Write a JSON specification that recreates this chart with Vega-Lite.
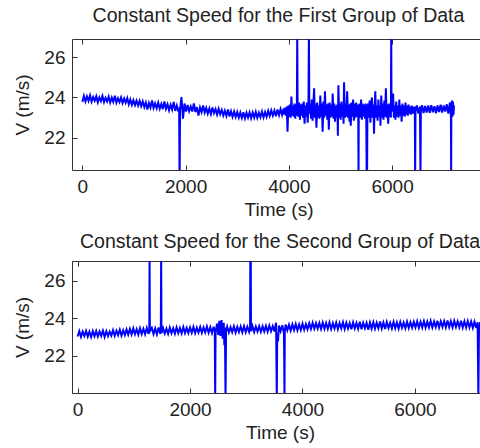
{
  "$schema": "https://vega.github.io/schema/vega-lite/v6.json",
  "padding": {"left": 13, "top": 5, "right": 0, "bottom": 0},
  "background": "white",
  "config": {
    "font": "Liberation Sans",
    "view": {"stroke": "#333333", "strokeWidth": 1},
    "axis": {"grid": false, "domain": false, "labelFontSize": 19, "labelColor": "#222222", "titleFontSize": 19, "titleFontWeight": "normal", "titleColor": "#222222", "tickColor": "#333333", "tickSize": -5, "labelPadding": 12},
    "axisY": {"titlePadding": 11},
    "title": {"fontSize": 19.5, "fontWeight": "normal", "color": "#222222", "offset": 12},
    "concat": {"spacing": 11}
  },
  "datasets": {
    "g1": [
      {"t":0,"v":23.78},{"t":30,"v":24.08},{"t":60,"v":23.8},{"t":90,"v":24.05},{"t":120,"v":23.83},{"t":150,"v":24.1},{"t":180,"v":23.79},{"t":210,"v":24.02},{"t":240,"v":23.84},{"t":270,"v":24.06},
      {"t":300,"v":23.76},{"t":330,"v":24.0},{"t":360,"v":23.82},{"t":390,"v":24.07},{"t":420,"v":23.77},{"t":450,"v":23.98},{"t":480,"v":23.8},{"t":510,"v":24.04},{"t":540,"v":23.75},{"t":570,"v":23.99},
      {"t":600,"v":23.78},{"t":630,"v":24.08},{"t":660,"v":23.74},{"t":690,"v":23.96},{"t":720,"v":23.77},{"t":750,"v":24.0},{"t":780,"v":23.72},{"t":810,"v":23.95},{"t":840,"v":23.74},{"t":870,"v":23.97},
      {"t":900,"v":23.66},{"t":930,"v":23.9},{"t":960,"v":23.63},{"t":990,"v":23.86},{"t":1020,"v":23.62},{"t":1050,"v":23.84},{"t":1080,"v":23.6},{"t":1110,"v":23.83},{"t":1140,"v":23.57},{"t":1170,"v":23.8},
      {"t":1200,"v":23.52},{"t":1230,"v":23.75},{"t":1260,"v":23.4},{"t":1290,"v":23.72},{"t":1320,"v":23.5},{"t":1350,"v":23.85},{"t":1380,"v":23.48},{"t":1410,"v":23.7},{"t":1440,"v":23.46},{"t":1470,"v":23.74},
      {"t":1500,"v":23.44},{"t":1530,"v":23.68},{"t":1560,"v":23.42},{"t":1590,"v":23.8},{"t":1620,"v":23.43},{"t":1650,"v":23.66},{"t":1680,"v":23.36},{"t":1710,"v":23.64},{"t":1740,"v":23.4},{"t":1770,"v":23.78},
      {"t":1800,"v":23.33},{"t":1830,"v":23.6},{"t":1860,"v":23.3},{"t":1875,"v":23.5},{"t":1884,"v":19.5},{"t":1893,"v":23.4},{"t":1920,"v":24.02},{"t":1950,"v":22.95},{"t":1980,"v":23.7},{"t":2010,"v":23.3},{"t":2040,"v":23.62},{"t":2070,"v":23.32},
      {"t":2100,"v":23.55},{"t":2130,"v":23.3},{"t":2160,"v":23.7},{"t":2190,"v":23.28},{"t":2220,"v":23.52},{"t":2250,"v":23.1},{"t":2280,"v":23.5},{"t":2310,"v":23.27},{"t":2340,"v":23.6},{"t":2370,"v":23.25},
      {"t":2400,"v":23.48},{"t":2430,"v":23.2},{"t":2460,"v":23.45},{"t":2490,"v":23.18},{"t":2520,"v":23.5},{"t":2550,"v":23.22},{"t":2580,"v":23.42},{"t":2610,"v":23.15},{"t":2640,"v":23.44},{"t":2670,"v":23.17},
      {"t":2700,"v":23.38},{"t":2730,"v":23.1},{"t":2760,"v":23.34},{"t":2790,"v":23.08},{"t":2820,"v":23.4},{"t":2850,"v":23.05},{"t":2880,"v":23.32},{"t":2910,"v":23.04},{"t":2940,"v":23.3},{"t":2970,"v":23.03},
      {"t":3000,"v":23.28},{"t":3030,"v":23.0},{"t":3060,"v":23.25},{"t":3090,"v":22.98},{"t":3120,"v":23.27},{"t":3150,"v":22.96},{"t":3180,"v":23.24},{"t":3210,"v":23.0},{"t":3240,"v":23.26},{"t":3270,"v":22.97},
      {"t":3300,"v":23.25},{"t":3330,"v":23.0},{"t":3360,"v":23.28},{"t":3390,"v":22.99},{"t":3420,"v":23.24},{"t":3450,"v":23.02},{"t":3480,"v":23.3},{"t":3510,"v":23.01},{"t":3540,"v":23.27},{"t":3570,"v":23.04},
      {"t":3600,"v":23.33},{"t":3630,"v":23.08},{"t":3660,"v":23.36},{"t":3690,"v":23.1},{"t":3720,"v":23.35},{"t":3750,"v":23.07},{"t":3780,"v":23.4},{"t":3810,"v":23.12},{"t":3840,"v":23.42},{"t":3870,"v":23.14},
      {"t":3900,"v":23.45},{"t":3915,"v":23.15},{"t":3930,"v":23.5},{"t":3945,"v":23.1},{"t":3960,"v":23.55},{"t":3975,"v":22.3},{"t":3990,"v":23.6},{"t":4005,"v":23.05},{"t":4020,"v":23.65},{"t":4035,"v":23.0},
      {"t":4050,"v":24.05},{"t":4065,"v":23.1},{"t":4080,"v":23.6},{"t":4095,"v":23.05},{"t":4110,"v":23.7},{"t":4125,"v":22.95},{"t":4140,"v":23.65},{"t":4155,"v":23.1},{"t":4163,"v":27.3},{"t":4171,"v":23.4},
      {"t":4185,"v":23.05},{"t":4200,"v":23.75},{"t":4215,"v":22.9},{"t":4230,"v":23.65},{"t":4245,"v":23.1},{"t":4260,"v":23.7},{"t":4275,"v":23.0},{"t":4290,"v":23.8},{"t":4305,"v":22.7},{"t":4320,"v":23.6},
      {"t":4335,"v":23.05},{"t":4350,"v":23.75},{"t":4365,"v":22.75},{"t":4380,"v":23.6},{"t":4389,"v":27.3},{"t":4398,"v":23.2},{"t":4414,"v":23.7},{"t":4430,"v":22.95},{"t":4445,"v":23.9},{"t":4460,"v":22.85},
      {"t":4475,"v":23.65},{"t":4490,"v":24.45},{"t":4505,"v":23.0},{"t":4520,"v":23.7},{"t":4535,"v":22.5},{"t":4550,"v":23.75},{"t":4565,"v":23.0},{"t":4580,"v":23.6},{"t":4595,"v":22.95},{"t":4610,"v":24.1},
      {"t":4625,"v":23.05},{"t":4640,"v":23.7},{"t":4655,"v":22.3},{"t":4670,"v":23.8},{"t":4685,"v":23.0},{"t":4700,"v":24.3},{"t":4715,"v":23.1},{"t":4730,"v":23.65},{"t":4745,"v":22.9},{"t":4760,"v":23.7},
      {"t":4775,"v":22.4},{"t":4790,"v":23.75},{"t":4805,"v":23.0},{"t":4820,"v":23.65},{"t":4835,"v":23.05},{"t":4850,"v":24.2},{"t":4865,"v":22.95},{"t":4880,"v":23.7},{"t":4895,"v":22.8},{"t":4910,"v":23.6},
      {"t":4925,"v":23.0},{"t":4940,"v":23.65},{"t":4950,"v":22.1},{"t":4960,"v":24.6},{"t":4975,"v":23.0},{"t":4990,"v":23.7},{"t":5005,"v":22.9},{"t":5020,"v":23.8},{"t":5035,"v":23.05},{"t":5050,"v":23.6},
      {"t":5060,"v":22.7},{"t":5070,"v":24.75},{"t":5085,"v":23.0},{"t":5100,"v":23.7},{"t":5115,"v":23.05},{"t":5130,"v":24.3},{"t":5145,"v":23.0},{"t":5160,"v":23.65},{"t":5175,"v":22.8},{"t":5190,"v":23.7},
      {"t":5200,"v":22.6},{"t":5215,"v":23.75},{"t":5230,"v":23.05},{"t":5245,"v":23.9},{"t":5260,"v":22.85},{"t":5275,"v":23.7},{"t":5290,"v":23.0},{"t":5305,"v":23.75},{"t":5320,"v":23.05},{"t":5335,"v":23.65},
      {"t":5345,"v":23.0},{"t":5350,"v":20.1},{"t":5355,"v":23.2},{"t":5370,"v":23.7},{"t":5385,"v":23.0},{"t":5400,"v":23.9},{"t":5415,"v":22.9},{"t":5430,"v":23.7},{"t":5445,"v":23.05},{"t":5460,"v":23.65},
      {"t":5475,"v":22.95},{"t":5490,"v":23.7},{"t":5500,"v":23.1},{"t":5508,"v":20.1},{"t":5512,"v":23.3},{"t":5516,"v":20.1},{"t":5522,"v":23.1},{"t":5535,"v":23.7},{"t":5550,"v":23.0},{"t":5565,"v":23.85},
      {"t":5580,"v":22.75},{"t":5595,"v":23.7},{"t":5610,"v":24.0},{"t":5625,"v":23.0},{"t":5640,"v":23.65},{"t":5650,"v":22.2},{"t":5665,"v":23.7},{"t":5675,"v":24.3},{"t":5690,"v":23.0},{"t":5705,"v":23.6},
      {"t":5720,"v":22.85},{"t":5735,"v":23.9},{"t":5750,"v":23.05},{"t":5765,"v":23.6},{"t":5775,"v":22.6},{"t":5790,"v":24.1},{"t":5805,"v":23.0},{"t":5820,"v":23.7},{"t":5835,"v":22.9},{"t":5850,"v":23.85},
      {"t":5865,"v":23.05},{"t":5880,"v":24.45},{"t":5895,"v":23.0},{"t":5910,"v":23.65},{"t":5925,"v":22.7},{"t":5940,"v":23.7},{"t":5955,"v":23.05},{"t":5970,"v":23.6},{"t":5977,"v":23.0},{"t":5983,"v":27.3},
      {"t":5990,"v":23.3},{"t":6005,"v":23.65},{"t":6020,"v":24.2},{"t":6035,"v":23.0},{"t":6050,"v":23.6},{"t":6065,"v":22.9},{"t":6080,"v":23.8},{"t":6095,"v":23.05},{"t":6110,"v":23.6},{"t":6125,"v":23.0},
      {"t":6140,"v":23.9},{"t":6155,"v":23.1},{"t":6170,"v":23.6},{"t":6185,"v":22.8},{"t":6200,"v":23.7},{"t":6215,"v":23.1},{"t":6230,"v":23.6},{"t":6245,"v":23.05},{"t":6260,"v":23.75},{"t":6275,"v":23.15},
      {"t":6290,"v":23.6},{"t":6305,"v":23.1},{"t":6320,"v":23.65},{"t":6335,"v":23.2},{"t":6350,"v":23.55},{"t":6365,"v":23.15},{"t":6380,"v":23.6},{"t":6395,"v":23.2},{"t":6410,"v":23.55},{"t":6425,"v":23.2},
      {"t":6440,"v":23.55},{"t":6447,"v":20.1},{"t":6454,"v":23.3},{"t":6480,"v":23.6},{"t":6510,"v":23.2},{"t":6540,"v":23.55},{"t":6550,"v":20.1},{"t":6558,"v":23.3},{"t":6580,"v":23.62},
      {"t":6610,"v":23.22},{"t":6640,"v":23.58},{"t":6670,"v":23.25},{"t":6700,"v":23.6},{"t":6730,"v":23.24},{"t":6760,"v":23.62},{"t":6790,"v":23.26},{"t":6820,"v":23.56},{"t":6850,"v":23.22},{"t":6880,"v":23.6},
      {"t":6910,"v":23.28},{"t":6940,"v":23.64},{"t":6970,"v":23.25},{"t":7000,"v":23.6},{"t":7030,"v":23.3},{"t":7060,"v":23.66},{"t":7090,"v":23.2},{"t":7120,"v":23.75},{"t":7140,"v":23.1},{"t":7144,"v":20.1},
      {"t":7148,"v":23.2},{"t":7160,"v":23.85},{"t":7170,"v":23.05},{"t":7180,"v":23.8},{"t":7190,"v":23.15},{"t":7200,"v":23.6}
    ],
    "g2": [
      {"t":0,"v":23.02},{"t":30,"v":23.3},{"t":60,"v":23.0},{"t":90,"v":23.28},{"t":120,"v":23.04},{"t":150,"v":23.32},{"t":180,"v":23.01},{"t":210,"v":23.27},{"t":240,"v":22.99},{"t":270,"v":23.3},
      {"t":300,"v":23.03},{"t":330,"v":23.31},{"t":360,"v":23.02},{"t":390,"v":23.29},{"t":420,"v":23.05},{"t":450,"v":23.33},{"t":480,"v":23.0},{"t":510,"v":23.3},{"t":540,"v":23.04},{"t":570,"v":23.28},
      {"t":600,"v":23.07},{"t":630,"v":23.36},{"t":660,"v":23.06},{"t":690,"v":23.33},{"t":720,"v":23.09},{"t":750,"v":23.38},{"t":780,"v":23.07},{"t":810,"v":23.35},{"t":840,"v":23.1},{"t":870,"v":23.4},
      {"t":900,"v":23.12},{"t":930,"v":23.42},{"t":960,"v":23.13},{"t":990,"v":23.45},{"t":1020,"v":23.14},{"t":1050,"v":23.41},{"t":1080,"v":23.12},{"t":1110,"v":23.46},{"t":1140,"v":23.15},{"t":1170,"v":23.43},
      {"t":1200,"v":23.14},{"t":1230,"v":23.47},{"t":1260,"v":23.16},{"t":1275,"v":23.4},{"t":1280,"v":27.4},{"t":1285,"v":23.3},{"t":1320,"v":23.48},{"t":1350,"v":23.15},{"t":1380,"v":23.45},{"t":1410,"v":23.13},
      {"t":1440,"v":23.5},{"t":1470,"v":23.16},{"t":1480,"v":23.4},{"t":1486,"v":27.4},{"t":1492,"v":23.2},{"t":1520,"v":23.47},{"t":1550,"v":23.18},{"t":1580,"v":23.44},{"t":1610,"v":23.16},{"t":1640,"v":23.49},
      {"t":1670,"v":23.19},{"t":1700,"v":23.46},{"t":1730,"v":23.17},{"t":1760,"v":23.5},{"t":1790,"v":23.2},{"t":1820,"v":23.47},{"t":1850,"v":23.18},{"t":1880,"v":23.52},{"t":1910,"v":23.2},{"t":1940,"v":23.48},
      {"t":1970,"v":23.21},{"t":2000,"v":23.5},{"t":2030,"v":23.22},{"t":2060,"v":23.53},{"t":2090,"v":23.2},{"t":2120,"v":23.49},{"t":2150,"v":23.23},{"t":2180,"v":23.52},{"t":2210,"v":23.21},{"t":2240,"v":23.5},
      {"t":2270,"v":23.24},{"t":2300,"v":23.55},{"t":2330,"v":23.22},{"t":2360,"v":23.51},{"t":2390,"v":23.2},{"t":2420,"v":23.54},{"t":2440,"v":23.3},{"t":2447,"v":19.7},{"t":2454,"v":23.25},{"t":2480,"v":23.7},
      {"t":2500,"v":23.1},{"t":2520,"v":23.85},{"t":2540,"v":23.05},{"t":2560,"v":23.9},{"t":2580,"v":22.9},{"t":2600,"v":23.75},{"t":2610,"v":22.55},{"t":2620,"v":23.5},{"t":2631,"v":19.7},{"t":2640,"v":23.3},
      {"t":2660,"v":23.55},{"t":2690,"v":23.24},{"t":2720,"v":23.52},{"t":2750,"v":23.25},{"t":2780,"v":23.56},{"t":2810,"v":23.23},{"t":2840,"v":23.53},{"t":2870,"v":23.26},{"t":2900,"v":23.55},{"t":2930,"v":23.24},
      {"t":2960,"v":23.57},{"t":2990,"v":23.25},{"t":3020,"v":23.54},{"t":3050,"v":23.27},{"t":3068,"v":23.5},{"t":3072,"v":27.4},{"t":3076,"v":23.4},{"t":3080,"v":27.4},{"t":3084,"v":23.3},{"t":3110,"v":23.58},
      {"t":3140,"v":23.26},{"t":3170,"v":23.55},{"t":3200,"v":23.28},{"t":3230,"v":23.57},{"t":3260,"v":23.27},{"t":3290,"v":23.56},{"t":3320,"v":23.29},{"t":3350,"v":23.58},{"t":3380,"v":23.28},{"t":3410,"v":23.6},
      {"t":3440,"v":23.3},{"t":3470,"v":23.57},{"t":3500,"v":23.29},{"t":3530,"v":23.75},{"t":3543,"v":19.7},{"t":3550,"v":23.2},{"t":3565,"v":22.75},{"t":3580,"v":23.6},{"t":3610,"v":23.3},{"t":3640,"v":23.62},
      {"t":3670,"v":23.2},{"t":3675,"v":21.7},{"t":3680,"v":19.7},{"t":3685,"v":23.3},{"t":3700,"v":23.65},{"t":3730,"v":23.35},{"t":3760,"v":23.64},{"t":3790,"v":23.33},{"t":3820,"v":23.66},{"t":3850,"v":23.36},
      {"t":3880,"v":23.68},{"t":3910,"v":23.35},{"t":3940,"v":23.66},{"t":3970,"v":23.37},{"t":4000,"v":23.7},{"t":4030,"v":23.38},{"t":4060,"v":23.68},{"t":4090,"v":23.4},{"t":4120,"v":23.72},{"t":4150,"v":23.42},
      {"t":4180,"v":23.75},{"t":4210,"v":23.43},{"t":4240,"v":23.73},{"t":4270,"v":23.44},{"t":4300,"v":23.74},{"t":4330,"v":23.42},{"t":4360,"v":23.76},{"t":4390,"v":23.43},{"t":4420,"v":23.74},{"t":4450,"v":23.43},
      {"t":4480,"v":23.77},{"t":4510,"v":23.42},{"t":4540,"v":23.73},{"t":4570,"v":23.44},{"t":4600,"v":23.76},{"t":4630,"v":23.41},{"t":4660,"v":23.74},{"t":4690,"v":23.45},{"t":4720,"v":23.78},{"t":4750,"v":23.42},
      {"t":4780,"v":23.75},{"t":4810,"v":23.44},{"t":4840,"v":23.73},{"t":4870,"v":23.4},{"t":4900,"v":23.77},{"t":4930,"v":23.45},{"t":4960,"v":23.74},{"t":4990,"v":23.43},{"t":5020,"v":23.8},{"t":5050,"v":23.41},
      {"t":5080,"v":23.75},{"t":5110,"v":23.46},{"t":5140,"v":23.74},{"t":5170,"v":23.38},{"t":5200,"v":23.76},{"t":5230,"v":23.44},{"t":5260,"v":23.78},{"t":5290,"v":23.43},{"t":5320,"v":23.75},{"t":5350,"v":23.46},
      {"t":5380,"v":23.82},{"t":5410,"v":23.44},{"t":5440,"v":23.76},{"t":5470,"v":23.42},{"t":5500,"v":23.79},{"t":5530,"v":23.47},{"t":5560,"v":23.75},{"t":5590,"v":23.45},{"t":5620,"v":23.8},{"t":5650,"v":23.46},
      {"t":5680,"v":23.77},{"t":5710,"v":23.44},{"t":5740,"v":23.79},{"t":5770,"v":23.48},{"t":5800,"v":23.76},{"t":5830,"v":23.46},{"t":5860,"v":23.81},{"t":5890,"v":23.47},{"t":5920,"v":23.78},{"t":5950,"v":23.49},
      {"t":5980,"v":23.8},{"t":6010,"v":23.5},{"t":6040,"v":23.83},{"t":6070,"v":23.48},{"t":6100,"v":23.8},{"t":6130,"v":23.5},{"t":6160,"v":23.84},{"t":6190,"v":23.49},{"t":6220,"v":23.81},{"t":6250,"v":23.51},
      {"t":6280,"v":23.85},{"t":6310,"v":23.5},{"t":6340,"v":23.82},{"t":6370,"v":23.52},{"t":6400,"v":23.86},{"t":6430,"v":23.5},{"t":6460,"v":23.83},{"t":6490,"v":23.53},{"t":6520,"v":23.84},{"t":6550,"v":23.51},
      {"t":6580,"v":23.87},{"t":6610,"v":23.52},{"t":6640,"v":23.83},{"t":6670,"v":23.5},{"t":6700,"v":23.85},{"t":6730,"v":23.53},{"t":6760,"v":23.82},{"t":6790,"v":23.51},{"t":6820,"v":23.86},{"t":6850,"v":23.5},
      {"t":6880,"v":23.83},{"t":6910,"v":23.49},{"t":6940,"v":23.84},{"t":6970,"v":23.5},{"t":7000,"v":23.82},{"t":7030,"v":23.48},{"t":7060,"v":23.8},{"t":7090,"v":23.47},{"t":7115,"v":23.78},{"t":7129,"v":19.7},
      {"t":7140,"v":23.45},{"t":7160,"v":23.78},{"t":7190,"v":23.46},{"t":7220,"v":23.76},{"t":7250,"v":23.47},{"t":7280,"v":23.77},{"t":7300,"v":23.5}
    ]
  },
  "vconcat": [
    {
      "title": "Constant Speed for the First Group of Data",
      "width": 413,
      "height": 131,
      "data": {"name": "g1"},
      "layer": [
        {
          "mark": {"type": "line", "clip": true, "color": "#0000ff", "strokeWidth": 2},
          "encoding": {
            "x": {"field": "t", "type": "quantitative", "scale": {"domain": [-200, 7800], "nice": false, "zero": false}, "axis": {"values": [0, 2000, 4000, 6000], "format": "d", "title": "Time (s)"}},
            "y": {"field": "v", "type": "quantitative", "scale": {"domain": [20.4, 26.9], "nice": false, "zero": false}, "axis": {"values": [22, 24, 26], "format": "d", "title": "V (m/s)"}}
          }
        },
        {
          "mark": {"type": "line", "clip": true, "opacity": 0},
          "encoding": {
            "x": {"field": "t", "type": "quantitative", "axis": {"orient": "top", "values": [0, 2000, 4000, 6000], "labels": false, "title": null}},
            "y": {"field": "v", "type": "quantitative", "axis": {"values": [22, 24, 26], "format": "d", "title": "V (m/s)"}}
          }
        }
      ],
      "resolve": {"axis": {"x": "independent"}}
    },
    {
      "title": {"text": "Constant Speed for the Second Group of Data", "offset": 8},
      "width": 416,
      "height": 132,
      "data": {"name": "g2"},
      "layer": [
        {
          "mark": {"type": "line", "clip": true, "color": "#0000ff", "strokeWidth": 2},
          "encoding": {
            "x": {"field": "t", "type": "quantitative", "scale": {"domain": [-100, 7300], "nice": false, "zero": false}, "axis": {"values": [0, 2000, 4000, 6000], "format": "d", "title": "Time (s)"}},
            "y": {"field": "v", "type": "quantitative", "scale": {"domain": [20, 27.05], "nice": false, "zero": false}, "axis": {"values": [22, 24, 26], "format": "d", "title": "V (m/s)"}}
          }
        },
        {
          "mark": {"type": "line", "clip": true, "opacity": 0},
          "encoding": {
            "x": {"field": "t", "type": "quantitative", "axis": {"orient": "top", "values": [0, 2000, 4000, 6000], "labels": false, "title": null}},
            "y": {"field": "v", "type": "quantitative", "axis": {"values": [22, 24, 26], "format": "d", "title": "V (m/s)"}}
          }
        }
      ],
      "resolve": {"axis": {"x": "independent"}}
    }
  ]
}
